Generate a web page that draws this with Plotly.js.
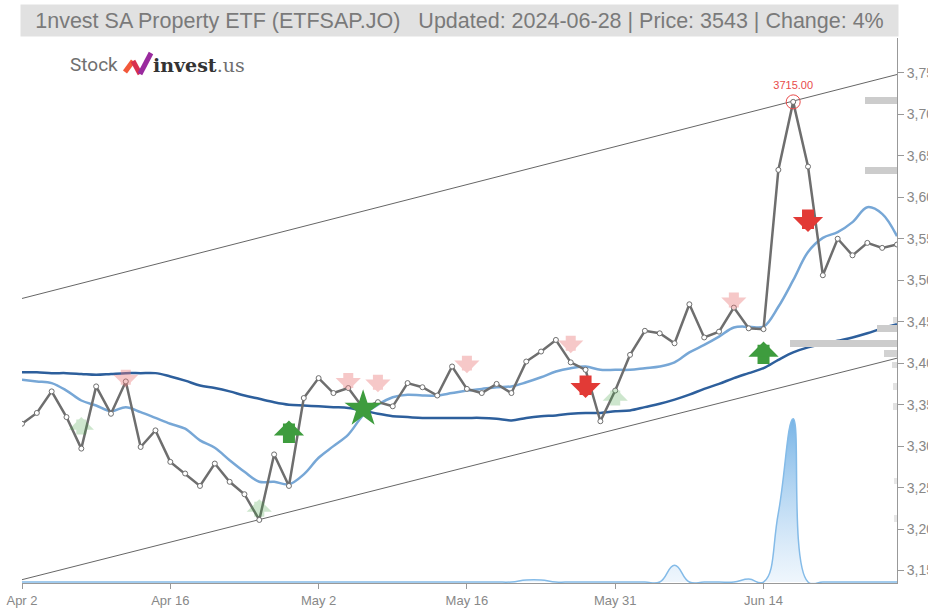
<!DOCTYPE html>
<html><head><meta charset="utf-8">
<script src="https://cdn.plot.ly/plotly-3.0.1.min.js"></script>
<style>html,body{margin:0;padding:0;background:#fff;overflow:hidden}#chart{width:928px;height:608px}</style>
</head><body><div id="chart"></div>
<script>
// ---- data ----
const tickIdx = [0, 10, 20, 30, 40, 50];
const tickLabels = ['Apr 2', 'Apr 16', 'May 2', 'May 16', 'May 31', 'Jun 14'];

const price = [3327,3340,3366,3335,3297,3372,3339,3378,3299,3319,
               3281,3267,3252,3279,3257,3242,3211,3290,3252,3358,
               3382,3364,3370,3346,3353,3348,3376,3371,3361,3396,
               3369,3364,3375,3364,3402,3414,3428,3401,3392,3330,
               3367,3410,3439,3436,3424,3471,3431,3438,3467,3442,
               3441,3633,3715,3637,3506,3550,3530,3545,3539,3543];

const maFast = [3380,3378,3376,3367,3355,3349,3342,3347,3341,3334,
                3327,3321,3307,3298,3283,3269,3257,3257,3254,3266,
                3286,3300,3314,3337,3350,3359,3362,3361,3361,3364,
                3367,3369,3371,3372,3377,3383,3390,3394,3396,3392,
                3392,3392,3394,3396,3401,3413,3422,3432,3443,3444,
                3444,3468,3500,3534,3551,3558,3570,3588,3580,3553];

const maSlow = [3389,3389,3388,3388,3387,3386,3387,3388,3388,3388,
                3384,3379,3373,3370,3366,3361,3357,3353,3350,3349,
                3348,3347,3346,3343,3339,3336,3335,3334,3334,3334,
                3334,3334,3333,3331,3334,3336,3337,3339,3340,3340,
                3342,3343,3347,3351,3356,3362,3369,3375,3382,3388,
                3394,3404,3413,3419,3423,3427,3431,3436,3442,3447];

const volume = [0,0,0,0,0,0,0,0,0,0,
                0,0,0,0,0,0,0,0,0,0,
                0,0,0,0,0,0,0,0,0,0,
                0,0,0,0,2,2,0,0,0,0,
                0,0,0,0,17,0,0,0,0,3,
                0,70,165,0,0,0,0,0,0,0];

const channelIdx = [0, 59];
const channelUpper = [3478, 3748];
const channelLower = [3139, 3406];

const profileLevels = [3717, 3632, 3452, 3442, 3424, 3412, 3398, 3372, 3348, 3258, 3213];
const profileSize   = [32, 32, 4, 20, 107, 13, 5, 4, 4, 3, 3];
const profileShade  = ['#cccccc','#cccccc','#dddddd','#cccccc','#cccccc','#d2d2d2','#dddddd','#e2e2e2','#e2e2e2','#e6e6e6','#e6e6e6'];

const buyStrongIdx = [18, 50],  buyStrongY = [3331, 3426];
const sellStrongIdx = [38, 53], sellStrongY = [3358, 3558];
const buyWeakIdx = [4, 16, 40], buyWeakY = [3335, 3236, 3370];
const sellWeakIdx = [7, 22, 24, 30, 37, 48], sellWeakY = [3371, 3367, 3365, 3388, 3412, 3464];
const starIdx = [23], starY = [3345];
const peakIdx = [52], peakY = [3715], peakLabel = ['3715.00'];

const titleText = '1nvest SA Property ETF (ETFSAP.JO)   Updated: 2024-06-28 | Price: 3543 | Change: 4%';

// ---- traces ----
const idx = price.map((_, i) => i);
const traces = [];

traces.push({
  x: idx, y: volume, yaxis: 'y2', type: 'scatter', mode: 'lines',
  line: {shape: 'spline', smoothing: 1.3, color: '#84bbe8', width: 1.5},
  fill: 'tozeroy',
  fillgradient: {type: 'vertical', start: 0, stop: 165,
    colorscale: [[0, 'rgba(228,240,251,0.6)'], [1, 'rgba(105,172,228,0.9)']]},
  hoverinfo: 'skip', showlegend: false
});

traces.push({
  type: 'bar', orientation: 'h', x: profileSize, y: profileLevels,
  xaxis: 'x3', width: 8,
  marker: {color: profileShade, line: {width: 0}},
  hoverinfo: 'skip', showlegend: false
});

traces.push({x: channelIdx, y: channelUpper, mode: 'lines', line: {color: '#666', width: 1}, hoverinfo: 'skip', showlegend: false});
traces.push({x: channelIdx, y: channelLower, mode: 'lines', line: {color: '#666', width: 1}, hoverinfo: 'skip', showlegend: false});

traces.push({x: idx, y: maSlow, mode: 'lines', line: {color: '#2d5f9c', width: 2.5, shape: 'spline'}, showlegend: false});
traces.push({x: idx, y: maFast, mode: 'lines', line: {color: '#77a7d6', width: 2.5, shape: 'spline'}, showlegend: false});

traces.push({
  x: idx, y: price, mode: 'lines+markers',
  line: {color: '#6e6e6e', width: 2.5},
  marker: {size: 5, color: '#ffffff', line: {color: '#6e6e6e', width: 1}},
  showlegend: false
});

traces.push({
  x: starIdx, y: starY, mode: 'markers',
  marker: {symbol: 'star', size: 28, color: '#3e9c3e'}, showlegend: false
});

traces.push({
  x: peakIdx, y: peakY, mode: 'markers+text', text: peakLabel,
  textposition: 'top center', textfont: {size: 11, color: '#e84a4a', family: 'Liberation Sans, Arial'},
  marker: {symbol: 'circle-open', size: 14, color: '#e84a4a', line: {width: 1}},
  cliponaxis: false, showlegend: false
});

// ---- arrow annotations ----
const annotations = [];
function addArrows(ix, iy, up, color, w, sz, len) {
  ix.forEach((xv, k) => {
    annotations.push({
      x: xv, y: iy[k], xref: 'x', yref: 'y', text: '', showarrow: true,
      arrowhead: 1, arrowsize: sz, arrowwidth: w, arrowcolor: color,
      ax: 0, ay: up ? len : -len, standoff: 0
    });
  });
}
addArrows(buyWeakIdx, buyWeakY, true, 'rgba(60,160,60,0.25)', 10, 0.42, 19);
addArrows(sellWeakIdx, sellWeakY, false, 'rgba(235,120,120,0.4)', 10, 0.42, 19);
addArrows(buyStrongIdx, buyStrongY, true, '#3e9c3e', 12, 0.42, 24);
addArrows(sellStrongIdx, sellStrongY, false, '#e23a36', 12, 0.42, 24);

annotations.push({
  xref: 'paper', yref: 'paper', x: 0.5, y: 1, xanchor: 'center', yanchor: 'bottom', yshift: 1,
  text: titleText, showarrow: false, width: 875, height: 29, bgcolor: '#e1e1e1',
  font: {size: 21.5, color: '#7a7a7a', family: 'Liberation Sans, Arial'}
});
annotations.push({
  xref: 'paper', yref: 'paper', x: (68 - 22) / 875, y: (583 - 65) / 545, xanchor: 'left', yanchor: 'middle',
  text: 'Stock', showarrow: false, font: {size: 19, color: '#6f6f6f', family: 'Roboto, DejaVu Sans'}
});
annotations.push({
  xref: 'paper', yref: 'paper', x: (151 - 22) / 875, y: (583 - 65) / 545, xanchor: 'left', yanchor: 'middle',
  text: "<b>invest</b><span style='color:#6f6f6f'>.us</span>", showarrow: false,
  font: {size: 19, color: '#333333', family: 'DejaVu Serif'}
});

function px(xp) { return (xp - 22) / 875; }
function py(yp) { return (583 - yp) / 545; }
const shapes = [
  {type: 'line', xref: 'paper', yref: 'paper', x0: px(125), y0: py(72), x1: px(133), y1: py(61), line: {color: '#f2583a', width: 5}},
  {type: 'line', xref: 'paper', yref: 'paper', x0: px(133), y0: py(61), x1: px(140), y1: py(74), line: {color: '#d8314e', width: 5}},
  {type: 'line', xref: 'paper', yref: 'paper', x0: px(140), y0: py(74), x1: px(151), y1: py(53), line: {color: '#9a2a9e', width: 5}}
];

const layout = {
  width: 928, height: 608,
  margin: {l: 22, r: 31, t: 38, b: 25},
  paper_bgcolor: '#ffffff', plot_bgcolor: '#ffffff',
  font: {family: 'Liberation Sans, Arial', color: '#888'},
  showlegend: false,
  xaxis: {
    range: [0, 59], tickvals: tickIdx, ticktext: tickLabels,
    ticks: 'outside', ticklen: 5, tickcolor: '#999', showline: true, linecolor: '#999', linewidth: 1,
    showgrid: false, zeroline: false, tickfont: {size: 13, color: '#888'}
  },
  yaxis: {
    side: 'right', range: [3135, 3792], tick0: 3150, dtick: 50, tickformat: ',d',
    ticks: 'outside', ticklen: 6, tickcolor: '#999', showline: true, linecolor: '#999', linewidth: 1,
    showgrid: false, zeroline: false, tickfont: {size: 14, color: '#888'}
  },
  yaxis2: {overlaying: 'y', range: [-1, 550], visible: false, fixedrange: true},
  xaxis3: {overlaying: 'x', range: [875, 0], visible: false, fixedrange: true},
  annotations: annotations,
  shapes: shapes,
  bargap: 0
};

Plotly.newPlot('chart', traces, layout, {displayModeBar: false, staticPlot: true});
</script>
</body></html>
